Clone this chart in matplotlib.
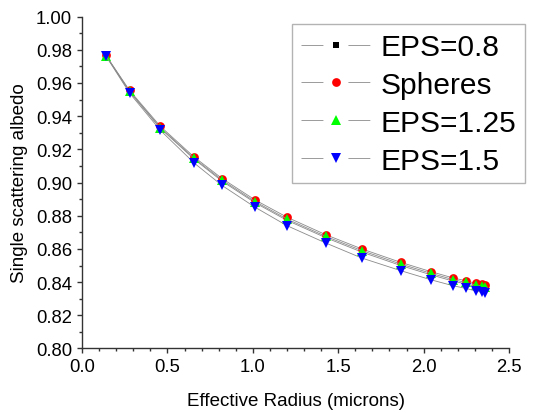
import numpy as np
import matplotlib
matplotlib.use("Agg")
import matplotlib.pyplot as plt
from matplotlib.lines import Line2D
from matplotlib.ticker import MultipleLocator, FormatStrFormatter

plt.rcParams['font.family'] = ['Liberation Sans', 'DejaVu Sans']

# effective radius (microns)
radius = [0.14, 0.278, 0.459, 0.657, 0.82, 1.013, 1.20, 1.426, 1.638, 1.866,
          2.043, 2.173, 2.248, 2.307, 2.344, 2.362]

# single scattering albedo per shape
eps_08 = [0.9764, 0.9547, 0.9326, 0.9140, 0.9008, 0.8878, 0.8772, 0.8668,
          0.8581, 0.8500, 0.8444, 0.8406, 0.8389, 0.8373, 0.8367, 0.8363]
spheres = [0.9766, 0.9555, 0.9338, 0.9153, 0.9024, 0.8895, 0.8791, 0.8686,
           0.8600, 0.8519, 0.8463, 0.8425, 0.8408, 0.8392, 0.8386, 0.8382]
eps_125 = [0.9765, 0.9550, 0.9330, 0.9145, 0.9015, 0.8885, 0.8780, 0.8676,
           0.8590, 0.8509, 0.8453, 0.8415, 0.8398, 0.8382, 0.8376, 0.8372]
eps_15 = [0.9762, 0.9539, 0.9314, 0.9117, 0.8982, 0.8851, 0.8740, 0.8636,
          0.8545, 0.8469, 0.8414, 0.8378, 0.8362, 0.8346, 0.8338, 0.8332]

labels = ['EPS=0.8', 'Spheres', 'EPS=1.25', 'EPS=1.5']
series = [eps_08, spheres, eps_125, eps_15]
markers = ['s', 'o', '^', 'v']
sizes = [5, 6.3, 7, 7]
colors = ['black', 'red', '#00ff00', 'blue']

fig = plt.figure(figsize=(5.47, 4.14), dpi=100)
ax = fig.add_axes([0.15, 0.1558, 0.7805, 0.8019])

line_col = '#8a8a8a'
handles = []
for y, m, s, c, lab in zip(series, markers, sizes, colors, labels):
    ax.plot(radius, y, color=line_col, lw=0.6, marker=m, ms=s,
            markerfacecolor=c, markeredgewidth=0)
    # legend proxy: line - symbol - line with gaps (Origin style)
    handles.append(Line2D([], [], color=line_col, lw=0.6, ls=(0, (26.3, 30)),
                          marker=m, ms=s, markerfacecolor=c, markeredgewidth=0,
                          label=lab))

ax.set_xlim(0, 2.5)
ax.set_ylim(0.80, 1.00)
ax.xaxis.set_major_locator(MultipleLocator(0.5))
ax.xaxis.set_minor_locator(MultipleLocator(0.1))
ax.yaxis.set_major_locator(MultipleLocator(0.02))
ax.yaxis.set_minor_locator(MultipleLocator(0.01))
ax.xaxis.set_major_formatter(FormatStrFormatter('%.1f'))
ax.yaxis.set_major_formatter(FormatStrFormatter('%.2f'))

for side in ['top', 'right']:
    ax.spines[side].set_visible(False)
for side in ['left', 'bottom']:
    ax.spines[side].set_linewidth(1.0)
    ax.spines[side].set_color('#333333')
ax.tick_params(which='major', direction='out', length=3.6, width=1.0, labelsize=13.3, color='#333333')
ax.tick_params(which='minor', direction='out', length=2.2, width=1.0, color='#333333')

ax.set_xlabel('Effective Radius (microns)', fontsize=13.5, labelpad=12)
ax.set_ylabel('Single scattering albedo', fontsize=13.5, labelpad=6)

leg = ax.legend(handles=handles, loc='upper right',
                bbox_to_anchor=(525 / 547, 1 - 25 / 414),
                bbox_transform=fig.transFigure, fontsize=21.5, frameon=True,
                fancybox=False, edgecolor='#a0a0a0', borderpad=0.3,
                handlelength=2.3, handletextpad=0.35, labelspacing=0.33,
                borderaxespad=0, numpoints=1)
leg.get_frame().set_linewidth(1.0)

fig.savefig('out.png', dpi=100)
